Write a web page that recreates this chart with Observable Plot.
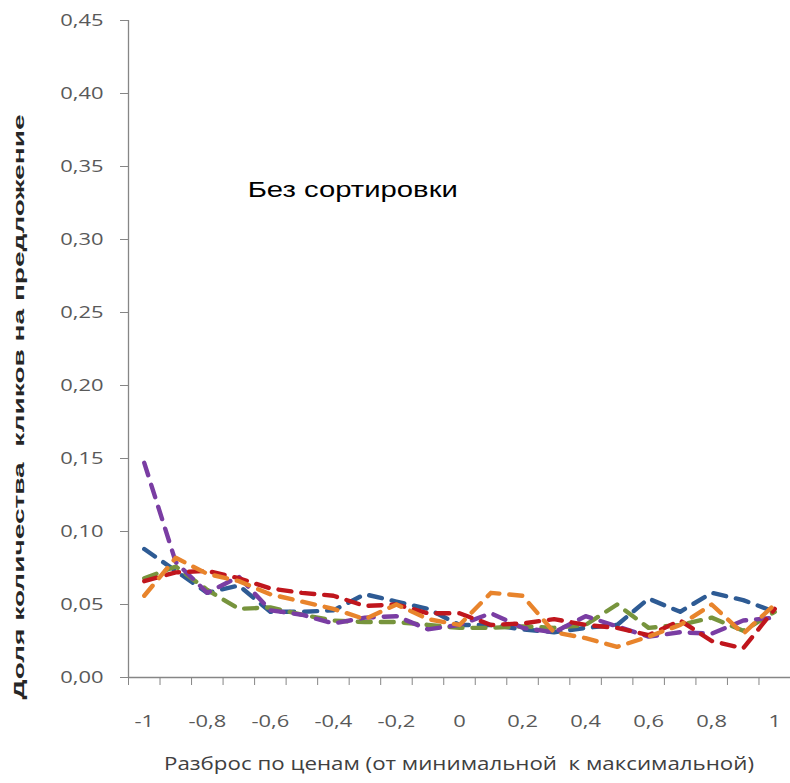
<!DOCTYPE html>
<html>
<head>
<meta charset="utf-8">
<script src="https://cdn.jsdelivr.net/npm/d3@7"></script>
<script src="https://cdn.jsdelivr.net/npm/@observablehq/plot@0.6"></script>
<style>
  html, body { margin: 0; padding: 0; background: #fff; }
  #chart { width: 790px; height: 783px; }
</style>
</head>
<body>
<div id="chart"></div>
<script>
// Price spread positions (categories)
const xs = [-1, -0.9, -0.8, -0.7, -0.6, -0.5, -0.4, -0.3, -0.2, -0.1, 0, 0.1, 0.2, 0.3, 0.4, 0.5, 0.6, 0.7, 0.8, 0.9, 1];

// Share of clicks per offer, five series
const seriesBlue   = [0.088, 0.073, 0.058, 0.063, 0.045, 0.045, 0.046, 0.057, 0.052, 0.047, 0.036, 0.036, 0.033, 0.031, 0.034, 0.036, 0.054, 0.045, 0.058, 0.053, 0.045];
const seriesGreen  = [0.068, 0.076, 0.060, 0.047, 0.048, 0.043, 0.039, 0.038, 0.038, 0.036, 0.034, 0.034, 0.035, 0.034, 0.036, 0.050, 0.034, 0.036, 0.041, 0.032, 0.045];
const seriesPurple = [0.147, 0.079, 0.058, 0.069, 0.046, 0.043, 0.037, 0.041, 0.042, 0.033, 0.036, 0.044, 0.034, 0.031, 0.042, 0.035, 0.028, 0.031, 0.030, 0.039, 0.041];
const seriesRed    = [0.066, 0.072, 0.073, 0.068, 0.061, 0.058, 0.056, 0.049, 0.050, 0.044, 0.044, 0.036, 0.037, 0.040, 0.036, 0.034, 0.029, 0.039, 0.025, 0.020, 0.047];
const seriesOrange = [0.056, 0.082, 0.071, 0.066, 0.057, 0.052, 0.047, 0.040, 0.050, 0.040, 0.036, 0.058, 0.056, 0.031, 0.027, 0.021, 0.028, 0.036, 0.050, 0.030, 0.050];

const seriesNames  = ["S1", "S2", "S3", "S4", "S5"];
const seriesValues = [seriesBlue, seriesGreen, seriesPurple, seriesRed, seriesOrange];
const seriesColors = ["#2E5B94", "#77943D", "#7A3DA3", "#C0161D", "#E8842C"];

// Axis ticks
const yTicks   = [0, 0.05, 0.10, 0.15, 0.20, 0.25, 0.30, 0.35, 0.40, 0.45];
const xLabels  = [-1, -0.8, -0.6, -0.4, -0.2, 0, 0.2, 0.4, 0.6, 0.8, 1];
const xMinor   = [-1.05, -0.95, -0.85, -0.75, -0.65, -0.55, -0.45, -0.35, -0.25, -0.15, -0.05, 0.05, 0.15, 0.25, 0.35, 0.45, 0.55, 0.65, 0.75, 0.85, 0.95, 1.05];

// Texts
const yTitle = "Доля количества  кликов на предложение";
const xTitle = "Разброс по ценам (от минимальной  к максимальной)";
const annotation = [{x: -0.672, y: 0.3336, text: "Без сортировки"}];

const rows = seriesNames.flatMap((name, i) =>
  xs.map((x, j) => ({series: name, x, y: seriesValues[i][j]}))
);

const comma = (d) => String(d).replace(".", ",");
const yFmt = (d) => d.toFixed(2).replace(".", ",");

const axisColor = "#868686";
const labelColor = "#595959";

const chart = Plot.plot({
  width: 790,
  height: 783,
  marginLeft: 128,
  marginRight: 0,
  marginTop: 20,
  marginBottom: 106,
  style: {background: "#fff", fontFamily: "'Open Sans', sans-serif", overflow: "visible"},
  x: {domain: [-1.05, 1.05], label: null},
  y: {domain: [0, 0.45], label: null},
  color: {domain: seriesNames, range: seriesColors},
  marks: [
    Plot.ruleY([0], {stroke: axisColor, strokeWidth: 1.3}),
    Plot.ruleX([-1.05], {stroke: axisColor, strokeWidth: 1.3}),
    Plot.axisY({ticks: yTicks, tickSize: 8, tickPadding: 17, tickFormat: yFmt, fontSize: 16.5, color: axisColor, label: null}),
    Plot.axisX({ticks: xMinor, tickSize: 8, tickFormat: () => "", color: axisColor, label: null}),
    Plot.axisX({ticks: xLabels, tickSize: 0, tickPadding: 38, tickFormat: comma, fontSize: 16.5, color: axisColor, label: null}),
    Plot.line(rows, {
      x: "x", y: "y", z: "series", stroke: "series",
      strokeWidth: 4.4, strokeDasharray: "13,10", strokeLinecap: "round", strokeLinejoin: "round",
      curve: "linear"
    }),
    Plot.text(annotation, {x: "x", y: "y", text: "text", textAnchor: "start", fontSize: 22, fontFamily: "'Liberation Sans', Arial, sans-serif", fill: "#000"})
  ]
});

document.getElementById("chart").appendChild(chart);

const svg = d3.select(chart);

// Horizontal stretch of texts (the reference is widened)
function stretch(sel, s) {
  sel.each(function () {
    const el = d3.select(this);
    let t = el.attr("transform");
    if (!t) {
      const x = +el.attr("x") || 0, y = +el.attr("y") || 0;
      el.attr("x", null).attr("y", null);
      t = `translate(${x},${y})`;
    }
    el.attr("transform", `${t} scale(${s},1)`);
  });
}
svg.selectAll("g[aria-label='y-axis tick label'] text, g[aria-label='x-axis tick label'] text").attr("fill", labelColor);
stretch(svg.selectAll("g[aria-label='y-axis tick label'] text"), 1.33);
stretch(svg.selectAll("g[aria-label='x-axis tick label'] text"), 1.33);
stretch(svg.selectAll("g[aria-label='text'] text"), 1.33);

// Axis titles
svg.append("text")
  .attr("transform", "translate(24,407) rotate(-90)")
  .attr("text-anchor", "middle")
  .attr("font-family", "'Liberation Sans', Arial, sans-serif")
  .attr("font-weight", "bold")
  .attr("font-size", 15)
  .attr("fill", "#262626")
  .attr("textLength", 585)
  .attr("lengthAdjust", "spacingAndGlyphs")
  .text(yTitle);

svg.append("text")
  .attr("x", 459)
  .attr("y", 770)
  .attr("text-anchor", "middle")
  .attr("font-family", "'Open Sans', sans-serif")
  .attr("font-size", 18)
  .attr("fill", "#404040")
  .attr("textLength", 590)
  .attr("lengthAdjust", "spacingAndGlyphs")
  .text(xTitle);
</script>
</body>
</html>
